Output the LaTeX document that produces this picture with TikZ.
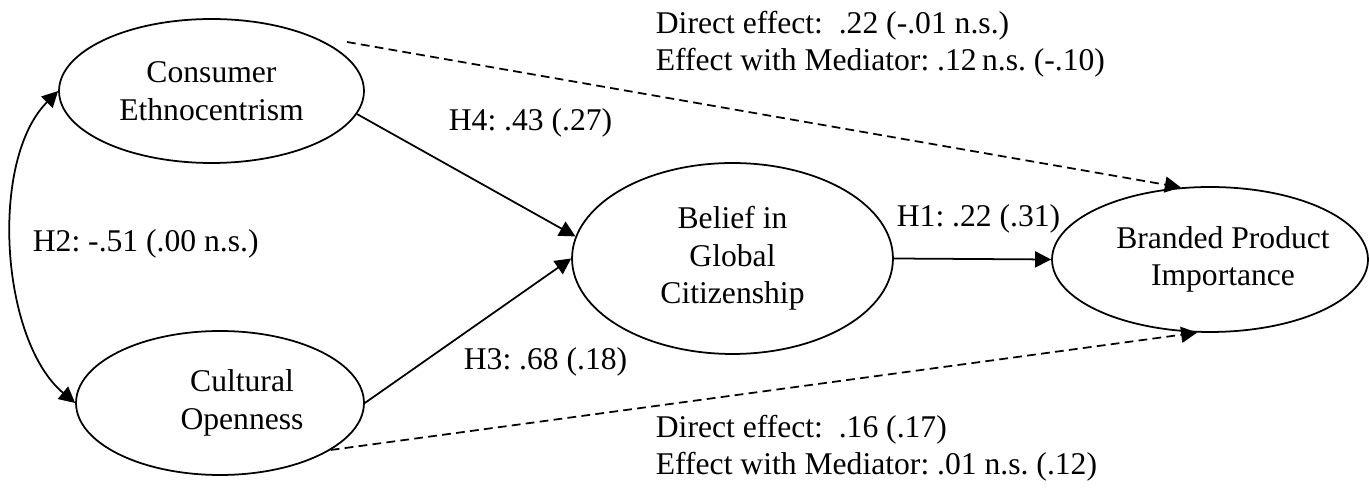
\documentclass[tikz,border=0pt]{standalone}
\usepackage{fontspec}
\setmainfont{Liberation Serif}
\frenchspacing
\usetikzlibrary{arrows.meta,shapes.geometric}
\begin{document}
\begin{tikzpicture}[x=0.02cm,y=-0.02cm,line width=1pt,
    >={Triangle[length=0.32cm,width=0.32cm]},
    font=\fontsize{18pt}{21.3pt}\selectfont,
    latent/.style={draw, ellipse, inner sep=0pt, align=center},
    lbl/.style={inner sep=0pt, anchor=base west},
    fx/.style={inner sep=0pt, anchor=west, align=left},
    effect/.style={->, dash pattern=on 5pt off 3pt}]
    \useasboundingbox (0,0) rectangle (1369,492);

    \node (CE) [latent, minimum width=6.1cm, minimum height=2.88cm] at (211.5,91) {Consumer\\Ethnocentrism};
    \node (CO) [latent, minimum width=5.76cm, minimum height=2.88cm,
      label={[align=center,xshift=0.44cm]center:Cultural\\Openness}] at (220,403) {};
    \node (BGC) [latent, minimum width=6.42cm, minimum height=3.82cm] at (732.5,258.5) {Belief in\\Global\\Citizenship};
    \node (BPI) [latent, minimum width=6.32cm, minimum height=2.9cm,
      label={[align=center,xshift=0.26cm]center:Branded Product\\Importance}] at (1210,259.5) {};
    \coordinate (CEdash) at (347,42);

    \draw [->] (CE.351) -- (BGC.172);
    \draw [->] (CO.east) -- (BGC.west);
    \draw [->] (BGC.east) -- (BPI.west);
    \draw [<->] (CE.west) to [out=225, in=140, looseness=0.8] (CO.west);
    \draw [effect] (CEdash) -- (BPI.112);
    \draw [effect] (CO.337) -- (BPI.260);

    \node (H4) [lbl] at (448,131) {H4: .43 (.27)};
    \node (H3) [lbl] at (463,370) {H3: .68 (.18)};
    \node (H2) [lbl] at (32,252) {H2: -.51 (.00 n.s.)};
    \node (H1) [lbl] at (896,227) {H1: .22 (.31)};
    \node (fxCE) [fx] at (655,44) {Direct effect:~~.22 (-.01 n.s.)\\Effect with Mediator: .12\,n.s. (-.10)};
    \node (fxCO) [fx] at (655,448) {Direct effect:~~.16 (.17)\\Effect with Mediator: .01 n.s. (.12)};
  \end{tikzpicture}
\end{document}
